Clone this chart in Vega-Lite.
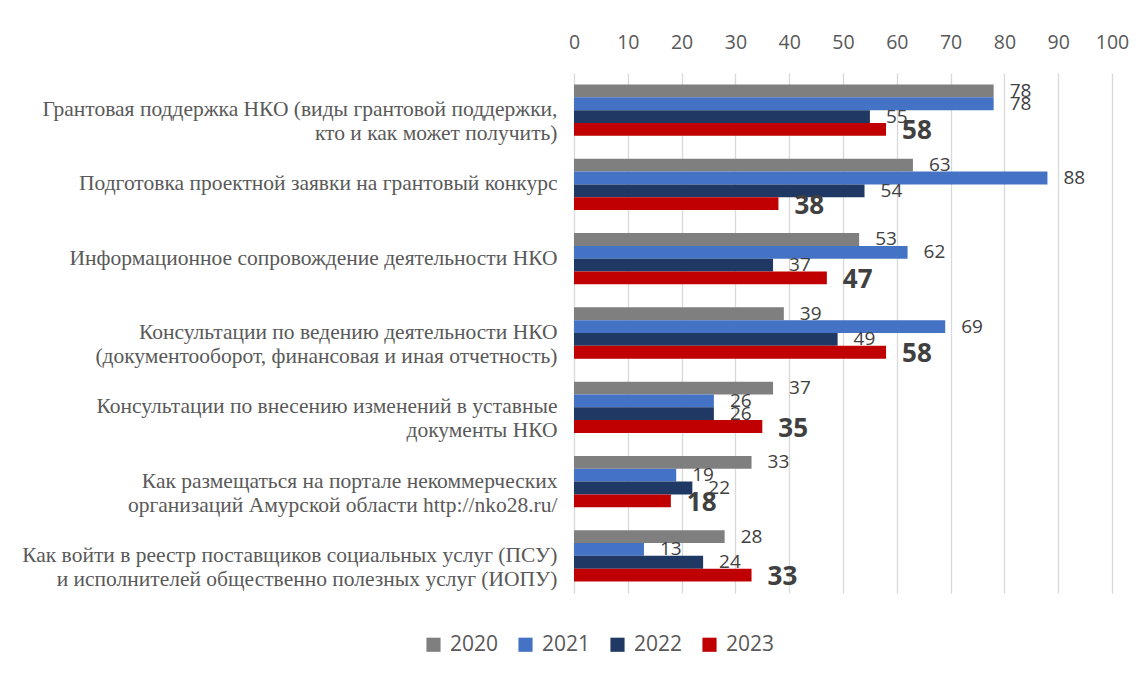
{
  "$schema": "https://vega.github.io/schema/vega-lite/v6.json",
  "width": 538,
  "height": 520,
  "autosize": {"type": "none"},
  "padding": {"left": 574, "top": 73, "right": 36, "bottom": 81},
  "background": "white",
  "config": {"view": {"stroke": null}, "font": "Open Sans"},
  "data": {
    "values": [
      {"cat": "Грантовая поддержка НКО (виды грантовой поддержки,|кто и как может получить)", "year": "2020", "value": 78},
      {"cat": "Грантовая поддержка НКО (виды грантовой поддержки,|кто и как может получить)", "year": "2021", "value": 78},
      {"cat": "Грантовая поддержка НКО (виды грантовой поддержки,|кто и как может получить)", "year": "2022", "value": 55},
      {"cat": "Грантовая поддержка НКО (виды грантовой поддержки,|кто и как может получить)", "year": "2023", "value": 58},
      {"cat": "Подготовка проектной заявки на грантовый конкурс", "year": "2020", "value": 63},
      {"cat": "Подготовка проектной заявки на грантовый конкурс", "year": "2021", "value": 88},
      {"cat": "Подготовка проектной заявки на грантовый конкурс", "year": "2022", "value": 54},
      {"cat": "Подготовка проектной заявки на грантовый конкурс", "year": "2023", "value": 38},
      {"cat": "Информационное сопровождение деятельности НКО", "year": "2020", "value": 53},
      {"cat": "Информационное сопровождение деятельности НКО", "year": "2021", "value": 62},
      {"cat": "Информационное сопровождение деятельности НКО", "year": "2022", "value": 37},
      {"cat": "Информационное сопровождение деятельности НКО", "year": "2023", "value": 47},
      {"cat": "Консультации по ведению деятельности НКО|(документооборот, финансовая и иная отчетность)", "year": "2020", "value": 39},
      {"cat": "Консультации по ведению деятельности НКО|(документооборот, финансовая и иная отчетность)", "year": "2021", "value": 69},
      {"cat": "Консультации по ведению деятельности НКО|(документооборот, финансовая и иная отчетность)", "year": "2022", "value": 49},
      {"cat": "Консультации по ведению деятельности НКО|(документооборот, финансовая и иная отчетность)", "year": "2023", "value": 58},
      {"cat": "Консультации по внесению изменений в уставные|документы НКО", "year": "2020", "value": 37},
      {"cat": "Консультации по внесению изменений в уставные|документы НКО", "year": "2021", "value": 26},
      {"cat": "Консультации по внесению изменений в уставные|документы НКО", "year": "2022", "value": 26},
      {"cat": "Консультации по внесению изменений в уставные|документы НКО", "year": "2023", "value": 35},
      {"cat": "Как размещаться на портале некоммерческих|организаций Амурской области http://nko28.ru/", "year": "2020", "value": 33},
      {"cat": "Как размещаться на портале некоммерческих|организаций Амурской области http://nko28.ru/", "year": "2021", "value": 19},
      {"cat": "Как размещаться на портале некоммерческих|организаций Амурской области http://nko28.ru/", "year": "2022", "value": 22},
      {"cat": "Как размещаться на портале некоммерческих|организаций Амурской области http://nko28.ru/", "year": "2023", "value": 18},
      {"cat": "Как войти в реестр поставщиков социальных услуг (ПСУ)|и исполнителей общественно полезных услуг (ИОПУ)", "year": "2020", "value": 28},
      {"cat": "Как войти в реестр поставщиков социальных услуг (ПСУ)|и исполнителей общественно полезных услуг (ИОПУ)", "year": "2021", "value": 13},
      {"cat": "Как войти в реестр поставщиков социальных услуг (ПСУ)|и исполнителей общественно полезных услуг (ИОПУ)", "year": "2022", "value": 24},
      {"cat": "Как войти в реестр поставщиков социальных услуг (ПСУ)|и исполнителей общественно полезных услуг (ИОПУ)", "year": "2023", "value": 33}
    ]
  },
  "encoding": {
    "y": {
      "field": "cat",
      "type": "nominal",
      "sort": null,
      "scale": {"paddingInner": 0.31, "paddingOuter": 0.155},
      "axis": {
        "title": null,
        "labelExpr": "split(datum.value, '|')",
        "labelFont": "Liberation Serif",
        "labelFontSize": 21.5,
        "labelLineHeight": 24,
        "labelColor": "#595959",
        "labelPadding": 17,
        "labelLimit": 0,
        "ticks": false,
        "domain": false,
        "grid": false
      }
    },
    "yOffset": {
      "field": "year",
      "type": "nominal",
      "sort": ["2020", "2021", "2022", "2023"],
      "scale": {"paddingInner": 0, "paddingOuter": 0}
    },
    "x": {
      "field": "value",
      "type": "quantitative",
      "scale": {"domain": [0, 100]},
      "axis": {
        "orient": "top",
        "title": null,
        "values": [0, 10, 20, 30, 40, 50, 60, 70, 80, 90, 100],
        "labelFlush": false,
        "ticks": false,
        "domain": false,
        "grid": true,
        "gridColor": "#d9d9d9",
        "gridWidth": 1.3,
        "labelFont": "Open Sans",
        "labelFontSize": 19.5,
        "labelColor": "#595959",
        "labelPadding": 21
      }
    }
  },
  "layer": [
    {
      "mark": {"type": "bar"},
      "encoding": {
        "color": {
          "field": "year",
          "type": "nominal",
          "scale": {"domain": ["2020", "2021", "2022", "2023"], "range": ["#7f7f7f", "#4472c4", "#203864", "#c00000"]},
          "legend": {
            "orient": "none",
            "legendX": -151,
            "legendY": 561,
            "direction": "horizontal",
            "title": null,
            "symbolType": "square",
            "symbolSize": 200,
            "symbolStrokeWidth": 0,
            "labelFont": "Open Sans",
            "labelFontSize": 21,
            "labelColor": "#595959",
            "labelOffset": 6,
            "columnPadding": 16
          }
        }
      }
    },
    {
      "transform": [{"filter": "datum.year != '2023'"}],
      "mark": {"type": "text", "align": "left", "baseline": "middle", "dx": 16, "fontSize": 19, "color": "#404040", "font": "Open Sans"},
      "encoding": {"text": {"field": "value", "type": "quantitative"}}
    },
    {
      "transform": [{"filter": "datum.year == '2023'"}],
      "mark": {"type": "text", "align": "left", "baseline": "middle", "dx": 16, "dy": 2, "fontSize": 26, "fontWeight": "bold", "color": "#404040", "font": "Open Sans"},
      "encoding": {"text": {"field": "value", "type": "quantitative"}}
    }
  ]
}
